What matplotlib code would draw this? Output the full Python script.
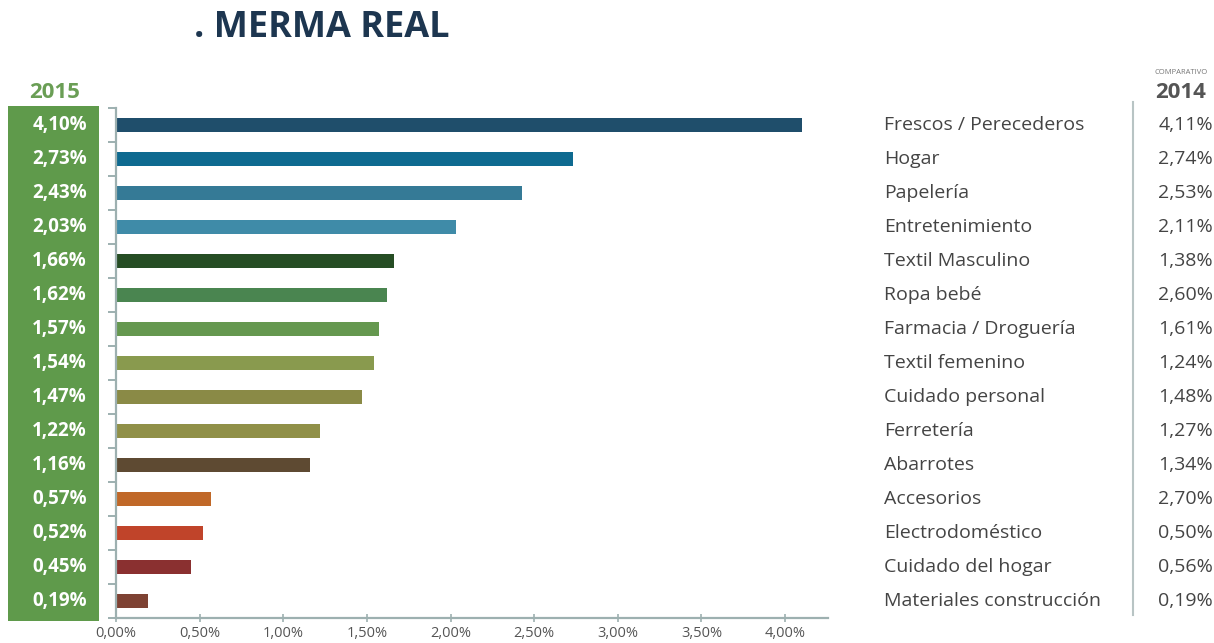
#!/usr/bin/env python3

# merma_real.py - Horizontal bar chart of real shrinkage by category

import matplotlib
matplotlib.use("Agg")
import matplotlib.pyplot as plt
import numpy as np
from matplotlib.patches import Rectangle
from matplotlib.transforms import blended_transform_factory

categories = [
    "Frescos / Perecederos",
    "Hogar",
    "Papelería",
    "Entretenimiento",
    "Textil Masculino",
    "Ropa bebé",
    "Farmacia / Droguería",
    "Textil femenino",
    "Cuidado personal",
    "Ferretería",
    "Abarrotes",
    "Accesorios",
    "Electrodoméstico",
    "Cuidado del hogar",
    "Materiales construcción",
]
merma_2015 = [4.10, 2.73, 2.43, 2.03, 1.66, 1.62, 1.57, 1.54, 1.47, 1.22, 1.16, 0.57, 0.52, 0.45, 0.19]
merma_2014 = [4.11, 2.74, 2.53, 2.11, 1.38, 2.60, 1.61, 1.24, 1.48, 1.27, 1.34, 2.70, 0.50, 0.56, 0.19]
x_ticks = [0.0, 0.5, 1.0, 1.5, 2.0, 2.5, 3.0, 3.5, 4.0]

bar_colors = [
    "#1f4e6b", "#0e6a90", "#357a96", "#3f8ba8", "#264d24",
    "#4a8550", "#65984f", "#899a4e", "#8a8a46", "#909048",
    "#5e4a32", "#c06828", "#c0442a", "#8a3030", "#7e4233",
]

W, H = 1214, 643
fig = plt.figure(figsize=(W / 100, H / 100), dpi=100, facecolor="white")
ax = fig.add_axes([116 / W, 1 - 618 / H, (828 - 116) / W, (618 - 108) / H])

FONT = "Open Sans"
SPINE = "#9db0b0"
pct = lambda v: f"{v:.2f}%".replace(".", ",")

# Bars
ypos = np.arange(len(categories))
ax.barh(ypos, merma_2015, height=0.44, color=bar_colors)
ax.set_ylim(len(categories) - 0.5, -0.5)
ax.set_xlim(0, 4.257)

# Axes styling
for side in ("top", "right"):
    ax.spines[side].set_visible(False)
for side in ("left", "bottom"):
    ax.spines[side].set_color(SPINE)
    ax.spines[side].set_linewidth(1.6)
ax.set_yticks(np.arange(-0.5, len(categories), 1))
ax.set_yticklabels([])
ax.tick_params(axis="y", length=6, width=1.4, color=SPINE, direction="out")
ax.set_xticks(x_ticks)
ax.set_xticklabels([pct(v) for v in x_ticks], fontsize=10.5, color="#555555", family=FONT)
ax.tick_params(axis="x", length=6, width=1.2, color=SPINE, direction="inout", pad=3)

# Green 2015 box
fig.patches.append(Rectangle((8 / W, 1 - 621 / H), 91 / W, (621 - 106) / H,
                             transform=fig.transFigure, facecolor="#5f9a4b",
                             edgecolor="none", zorder=0))
fig.text(55 / W, 1 - 92 / H, "2015", ha="center", va="center", fontsize=16,
         fontweight="bold", color="#6a9e55", family=FONT)

row_tr = blended_transform_factory(fig.transFigure, ax.transData)
for y, v in zip(ypos, merma_2015):
    fig.text(87 / W, y, pct(v), transform=row_tr, ha="right", va="center",
             fontsize=13.5, fontweight="bold", color="white", family=FONT, zorder=5)

# Category names and 2014 comparison
for y, name, v in zip(ypos, categories, merma_2014):
    fig.text(884 / W, y, name, transform=row_tr, ha="left", va="center",
             fontsize=14, color="#444444", family=FONT, zorder=5)
    fig.text(1213 / W, y, pct(v), transform=row_tr, ha="right", va="center",
             fontsize=14, color="#444444", family=FONT, zorder=5)

fig.add_artist(plt.Line2D([1133 / W, 1133 / W], [1 - 102 / H, 1 - 615 / H],
                          transform=fig.transFigure, color="#b8c4c4", lw=1.5))
fig.text(1181 / W, 1 - 72 / H, "COMPARATIVO", ha="center", va="center",
         fontsize=5.5, color="#777777", family=FONT)
fig.text(1181 / W, 1 - 92 / H, "2014", ha="center", va="center", fontsize=16,
         fontweight="bold", color="#555555", family=FONT)

# Title
fig.text(194 / W, 1 - 28 / H, ". MERMA REAL", ha="left", va="center",
         fontsize=26, fontweight="bold", color="#1d3650", family=FONT)

fig.savefig("out.png", dpi=100, facecolor="white")
